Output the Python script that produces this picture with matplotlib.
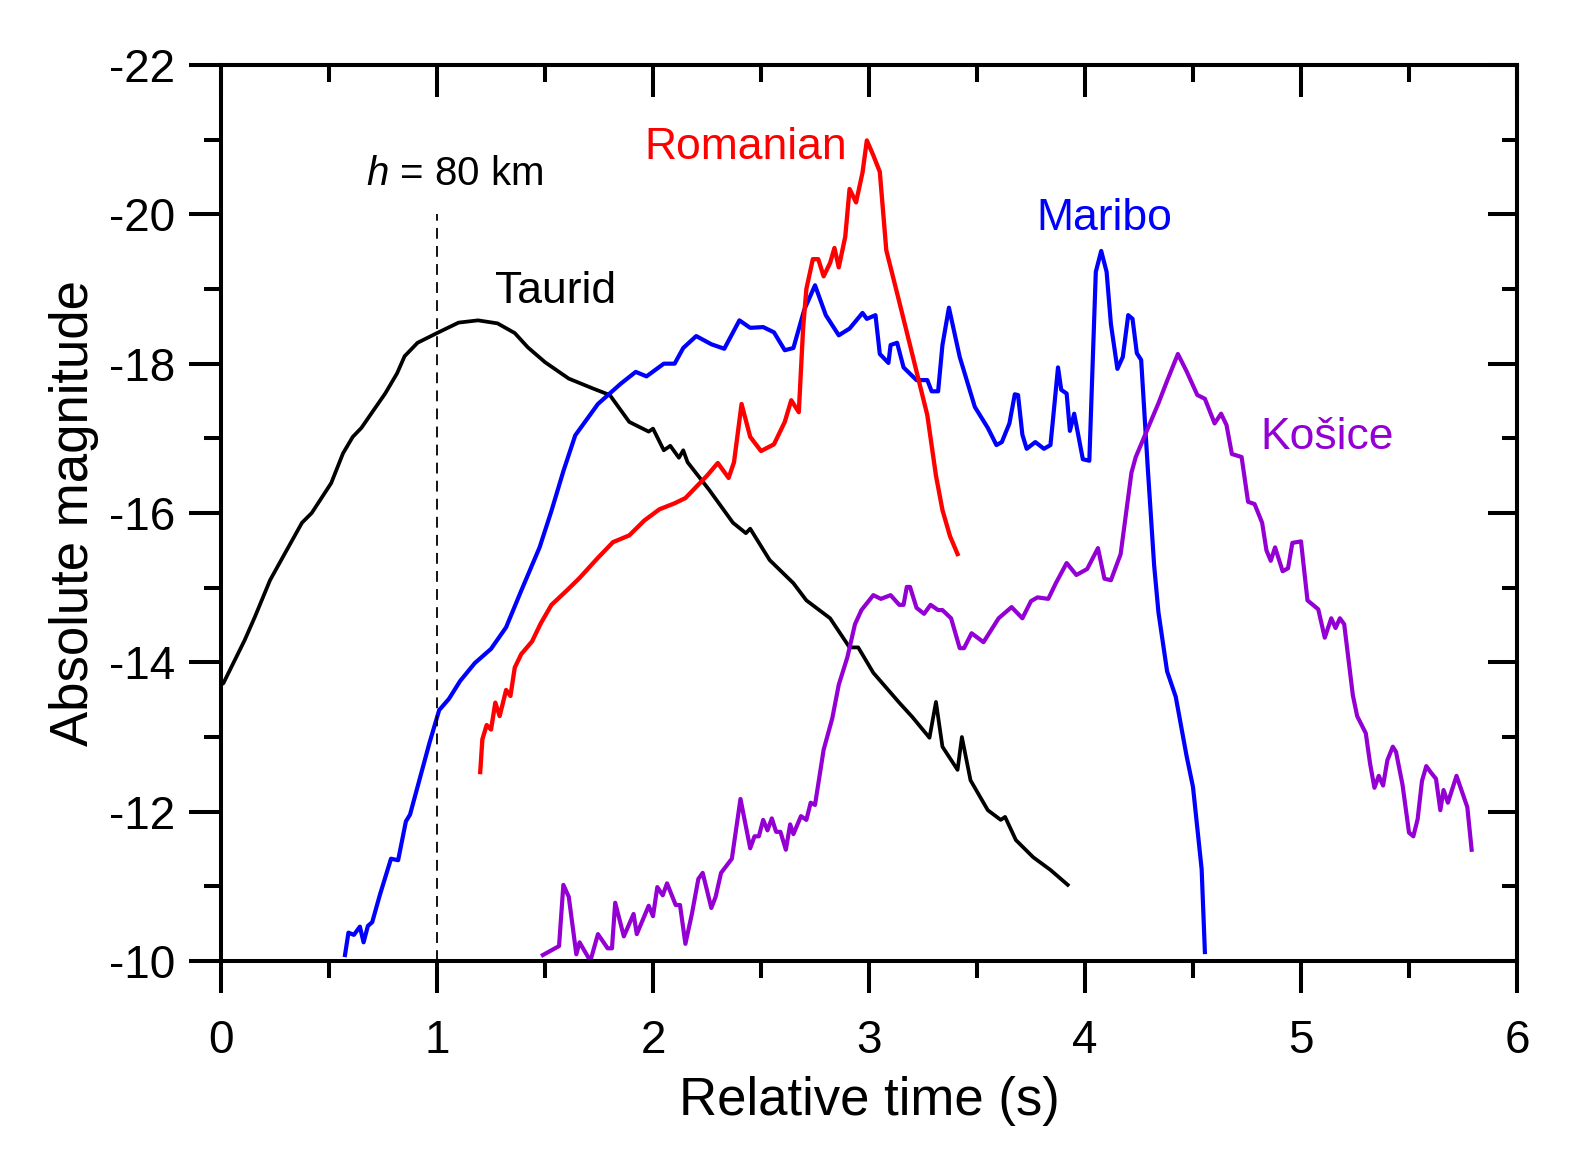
import numpy as np
import matplotlib
matplotlib.use("Agg")
import matplotlib.pyplot as plt
from matplotlib.ticker import MultipleLocator

plt.rcParams['font.family'] = ['Liberation Sans', 'DejaVu Sans']
plt.rcParams['axes.unicode_minus'] = False
plt.rcParams['mathtext.fontset'] = 'custom'
plt.rcParams['mathtext.it'] = 'Liberation Sans:italic'
plt.rcParams['mathtext.rm'] = 'Liberation Sans'

# Taurid (black)
taurid_t = [0.0, 0.011, 0.11, 0.157, 0.227, 0.296, 0.375, 0.42, 0.51, 0.565, 0.61, 0.65,
            0.70, 0.76, 0.815, 0.85, 0.91, 1.0, 1.1, 1.19, 1.28, 1.36, 1.42, 1.5, 1.61,
            1.72, 1.8, 1.89, 1.98, 2.0, 2.05, 2.08, 2.12, 2.14, 2.16, 2.26, 2.37, 2.43,
            2.45, 2.54, 2.65, 2.71, 2.82, 2.91, 2.95, 3.02, 3.14, 3.2, 3.28, 3.31,
            3.34, 3.41, 3.43, 3.47, 3.55, 3.61, 3.63, 3.68, 3.76, 3.84, 3.92]
taurid_m = [-13.7, -13.72, -14.3, -14.61, -15.1, -15.46, -15.87, -16.0, -16.4, -16.8,
            -17.02, -17.14, -17.35, -17.6, -17.87, -18.1, -18.28, -18.41, -18.55,
            -18.58, -18.54, -18.41, -18.22, -18.02, -17.8, -17.67, -17.58, -17.22,
            -17.09, -17.13, -16.84, -16.9, -16.74, -16.84, -16.68, -16.31, -15.87,
            -15.73, -15.79, -15.37, -15.06, -14.83, -14.59, -14.2, -14.2, -13.86,
            -13.46, -13.27, -12.99, -13.47, -12.87, -12.56, -13.0, -12.42, -12.02,
            -11.89, -11.93, -11.62, -11.39, -11.22, -11.02]

# Romanian (red)
romanian_t = [1.2, 1.21, 1.23, 1.25, 1.27, 1.29, 1.32, 1.34, 1.36, 1.39, 1.44, 1.48,
              1.53, 1.6, 1.66, 1.745, 1.815, 1.89, 1.96, 2.03, 2.1, 2.15, 2.2, 2.25,
              2.3, 2.35, 2.375, 2.41, 2.45, 2.5, 2.56, 2.61, 2.64, 2.675, 2.695, 2.71,
              2.74, 2.765, 2.79, 2.82, 2.84, 2.86, 2.89, 2.91, 2.94, 2.97, 2.99, 3.02,
              3.05, 3.08, 3.14, 3.2, 3.27, 3.31, 3.34, 3.375, 3.41]
romanian_m = [-12.53, -12.97, -13.16, -13.1, -13.46, -13.28, -13.63, -13.55, -13.93,
              -14.11, -14.28, -14.52, -14.77, -14.96, -15.13, -15.4, -15.61, -15.7,
              -15.9, -16.05, -16.13, -16.2, -16.35, -16.5, -16.67, -16.47, -16.68,
              -17.46, -17.02, -16.83, -16.92, -17.22, -17.51, -17.35, -18.48, -19.0,
              -19.4, -19.4, -19.17, -19.35, -19.55, -19.29, -19.7, -20.34, -20.16,
              -20.56, -20.99, -20.79, -20.57, -19.52, -18.83, -18.13, -17.31, -16.5,
              -16.04, -15.69, -15.45]

# Maribo (blue)
maribo_t = [0.574, 0.59, 0.615, 0.643, 0.66, 0.68, 0.7, 0.735, 0.787, 0.82, 0.856,
            0.875, 0.92, 0.965, 1.01, 1.055, 1.107, 1.175, 1.25, 1.32, 1.39, 1.475,
            1.53, 1.585, 1.64, 1.745, 1.85, 1.92, 1.97, 2.05, 2.1, 2.14, 2.2, 2.27,
            2.33, 2.4, 2.45, 2.51, 2.56, 2.61, 2.65, 2.7, 2.75, 2.8, 2.86, 2.91, 2.97,
            2.99, 3.03, 3.05, 3.09, 3.1, 3.13, 3.16, 3.22, 3.27, 3.29, 3.32, 3.34,
            3.37, 3.42, 3.49, 3.55, 3.59, 3.615, 3.65, 3.675, 3.69, 3.71, 3.73, 3.77,
            3.81, 3.84, 3.85, 3.875, 3.89, 3.915, 3.93, 3.95, 3.99, 4.02, 4.05, 4.075,
            4.1, 4.12, 4.15, 4.175, 4.2, 4.22, 4.24, 4.26, 4.29, 4.32, 4.34, 4.38,
            4.42, 4.47, 4.5, 4.54, 4.555]
maribo_m = [-10.08, -10.38, -10.35, -10.46, -10.25, -10.47, -10.52, -10.88, -11.37,
            -11.35, -11.87, -11.96, -12.44, -12.92, -13.36, -13.51, -13.75, -13.99,
            -14.18, -14.47, -14.96, -15.54, -16.03, -16.56, -17.04, -17.46, -17.73,
            -17.89, -17.83, -18.0, -18.0, -18.21, -18.37, -18.26, -18.2, -18.58,
            -18.48, -18.49, -18.42, -18.18, -18.21, -18.72, -19.05, -18.65, -18.38,
            -18.47, -18.68, -18.6, -18.65, -18.13, -18.01, -18.25, -18.28, -17.95,
            -17.78, -17.78, -17.63, -17.63, -18.25, -18.75, -18.09, -17.42, -17.14,
            -16.91, -16.95, -17.2, -17.59, -17.58, -17.05, -16.86, -16.95, -16.86,
            -16.91, -17.2, -17.95, -17.65, -17.6, -17.1, -17.33, -16.72, -16.7,
            -19.23, -19.51, -19.23, -18.53, -17.93, -18.09, -18.65, -18.6, -18.14,
            -18.05, -16.63, -15.3, -14.67, -13.88, -13.54, -12.75, -12.33, -11.23,
            -10.12]

# Košice (purple)
kosice_t = [1.49, 1.565, 1.585, 1.61, 1.645, 1.66, 1.71, 1.745, 1.79, 1.81, 1.825,
            1.865, 1.91, 1.925, 1.98, 2.0, 2.02, 2.045, 2.065, 2.105, 2.125, 2.15,
            2.18, 2.21, 2.23, 2.27, 2.29, 2.315, 2.365, 2.405, 2.45, 2.47, 2.49, 2.51,
            2.53, 2.55, 2.57, 2.59, 2.615, 2.635, 2.65, 2.685, 2.71, 2.73, 2.75, 2.79,
            2.83, 2.86, 2.9, 2.935, 2.965, 3.02, 3.055, 3.1, 3.14, 3.16, 3.175, 3.19,
            3.22, 3.255, 3.285, 3.32, 3.34, 3.38, 3.42, 3.44, 3.475, 3.53, 3.6, 3.66,
            3.71, 3.75, 3.78, 3.83, 3.865, 3.915, 3.96, 4.01, 4.06, 4.09, 4.12, 4.165,
            4.215, 4.235, 4.295, 4.34, 4.38, 4.43, 4.47, 4.52, 4.555, 4.6, 4.63,
            4.655, 4.68, 4.725, 4.755, 4.785, 4.82, 4.84, 4.86, 4.88, 4.915, 4.94,
            4.96, 5.0, 5.03, 5.08, 5.11, 5.14, 5.16, 5.18, 5.2, 5.24, 5.26, 5.3, 5.32,
            5.34, 5.36, 5.38, 5.4, 5.425, 5.44, 5.47, 5.5, 5.52, 5.54, 5.56, 5.58,
            5.6, 5.625, 5.645, 5.66, 5.68, 5.72, 5.77, 5.79]
kosice_m = [-10.08, -10.2, -11.02, -10.86, -10.09, -10.25, -10.0, -10.36, -10.17,
            -10.17, -10.78, -10.33, -10.63, -10.36, -10.74, -10.6, -10.99, -10.88,
            -11.04, -10.75, -10.75, -10.23, -10.63, -11.1, -11.18, -10.71, -10.86,
            -11.18, -11.37, -12.17, -11.51, -11.67, -11.67, -11.89, -11.75, -11.91,
            -11.73, -11.73, -11.49, -11.83, -11.7, -11.94, -11.89, -12.12, -12.09,
            -12.83, -13.25, -13.7, -14.07, -14.51, -14.7, -14.9, -14.85, -14.9,
            -14.77, -14.77, -15.01, -15.01, -14.73, -14.65, -14.77, -14.7, -14.7,
            -14.59, -14.19, -14.19, -14.39, -14.27, -14.59, -14.74, -14.59, -14.82,
            -14.87, -14.85, -15.06, -15.33, -15.17, -15.25, -15.53, -15.12, -15.1,
            -15.45, -16.54, -16.75, -17.16, -17.47, -17.77, -18.13, -17.9, -17.58,
            -17.53, -17.2, -17.33, -17.18, -16.79, -16.75, -16.15, -16.12, -15.87,
            -15.5, -15.36, -15.54, -15.22, -15.26, -15.6, -15.62, -14.83, -14.71,
            -14.33, -14.59, -14.46, -14.59, -14.51, -13.56, -13.28, -13.05, -12.64,
            -12.32, -12.48, -12.35, -12.69, -12.87, -12.8, -12.36, -11.72, -11.67,
            -11.9, -12.41, -12.61, -12.53, -12.44, -12.02, -12.29, -12.12, -12.48,
            -12.06, -11.49]

fig = plt.figure(figsize=(15.73, 11.65), dpi=100)
ax = fig.add_axes([0.1405, 0.1751, 0.8239, 0.7691])

ax.plot(taurid_t, taurid_m, color='black', lw=2.7)
ax.plot(maribo_t, maribo_m, color='#0000ff', lw=3.0)
ax.plot(kosice_t, kosice_m, color='#9400d3', lw=3.0)
ax.plot(romanian_t, romanian_m, color='#ff0000', lw=3.1)

ax.vlines(1.0, -10, -20, colors='black', linestyles=(0, (6, 4)), lw=1.3)

ax.set_xlim(0, 6)
ax.set_ylim(-10, -22)

ax.xaxis.set_major_locator(MultipleLocator(1))
ax.xaxis.set_minor_locator(MultipleLocator(0.5))
ax.yaxis.set_minor_locator(MultipleLocator(1))
ax.set_yticks(np.arange(-22, -9, 2))
ax.set_yticklabels([str(v) for v in range(-22, -9, 2)])

sw = 2.9
for s in ax.spines.values():
    s.set_linewidth(sw)

ax.tick_params(which='major', direction='out', length=23, width=sw, labelsize=33, pad=10)
ax.tick_params(which='minor', direction='out', length=12, width=sw)
ax.tick_params(axis='x', which='major', pad=19)

# inward ticks on the top and right sides
top = ax.secondary_xaxis('top')
top.xaxis.set_major_locator(MultipleLocator(1))
top.xaxis.set_minor_locator(MultipleLocator(0.5))
top.tick_params(which='major', direction='in', length=23, width=sw, labeltop=False)
top.tick_params(which='minor', direction='in', length=12, width=sw)
top.spines['top'].set_linewidth(sw)

right = ax.secondary_yaxis('right')
right.yaxis.set_major_locator(MultipleLocator(2))
right.yaxis.set_minor_locator(MultipleLocator(1))
right.tick_params(which='major', direction='in', length=21, width=sw, labelright=False)
right.tick_params(which='minor', direction='in', length=11, width=sw)
right.spines['right'].set_linewidth(sw)

ax.set_xlabel('Relative time (s)', fontsize=38, labelpad=9)
ax.set_ylabel('Absolute magnitude', fontsize=38, labelpad=7)

ax.text(1.08, -20.54, '$h$ = 80 km', fontsize=29, ha='center', va='center')
ax.text(1.55, -18.96, 'Taurid', fontsize=32, ha='center', va='center')
ax.text(2.43, -20.9, 'Romanian', fontsize=32, ha='center', va='center', color='#ff0000')
ax.text(4.09, -19.95, 'Maribo', fontsize=32, ha='center', va='center', color='#0000ff')
ax.text(5.12, -17.01, 'Košice', fontsize=32, ha='center', va='center', color='#9400d3')

plt.savefig('out.png', dpi=100)
